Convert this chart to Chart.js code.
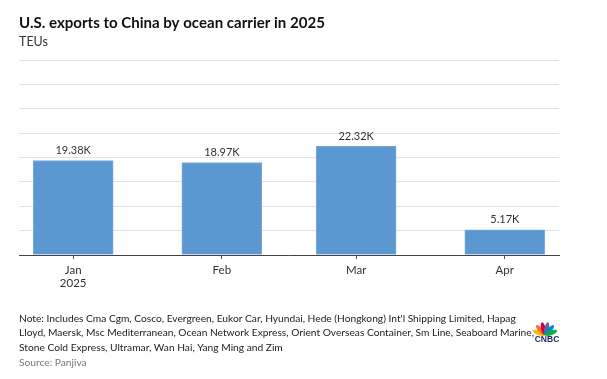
<!DOCTYPE html>
<html>
<head>
<meta charset="utf-8">
<script src="https://cdn.jsdelivr.net/npm/chart.js@4.4.1/dist/chart.umd.min.js"></script>
<style>
  html, body { margin: 0; padding: 0; background: #fff; }
  #wrap { width: 607px; height: 379px; position: relative; }
</style>
</head>
<body>
<div id="wrap"><canvas id="c" width="607" height="379"></canvas></div>
<script>
// ---- data ----
const categories = ['Jan', 'Feb', 'Mar', 'Apr'];
const yearLabel = '2025';
const monthDates = ['2025-01-01', '2025-02-01', '2025-03-01', '2025-04-01'];
const teus = [19380, 18970, 22320, 5170];
const yMax = 40000;
const yStep = 5000;

const titleText = 'U.S. exports to China by ocean carrier in 2025';
const subtitleText = 'TEUs';
const noteLines = [
  "Note: Includes Cma Cgm, Cosco, Evergreen, Eukor Car, Hyundai, Hede (Hongkong) Int'l Shipping Limited, Hapag",
  "Lloyd, Maersk, Msc Mediterranean, Ocean Network Express, Orient Overseas Container, Sm Line, Seaboard Marine,",
  "Stone Cold Express, Ultramar, Wan Hai, Yang Ming and Zim"
];
const sourceText = 'Source: Panjiva';

// days since first month (time-proportional positions)
const dayMs = 86400000;
const t0 = Date.parse(monthDates[0]);
const dayOffsets = monthDates.map(d => Math.round((Date.parse(d) - t0) / dayMs));

const FONT = 'Lato, "Open Sans", sans-serif';

function fitFont(ctx, text, weight, targetW) {
  ctx.font = weight + ' 20px ' + FONT;
  const w = ctx.measureText(text).width;
  return weight + ' ' + (20 * targetW / w).toFixed(2) + 'px ' + FONT;
}

const textPlugin = {
  id: 'texts',
  afterDatasetsDraw(chart) {
    const ctx = chart.ctx;
    const meta = chart.getDatasetMeta(0);
    ctx.save();
    ctx.font = '11px ' + FONT;
    ctx.fillStyle = '#333';
    ctx.textAlign = 'center';
    ctx.textBaseline = 'middle';
    meta.data.forEach((bar, i) => {
      ctx.fillText((teus[i] / 1000).toFixed(2) + 'K', bar.x, bar.y - 10);
    });
    ctx.restore();
  },
  afterDraw(chart) {
    const ctx = chart.ctx;
    ctx.save();
    ctx.textAlign = 'left';
    ctx.textBaseline = 'middle';
    ctx.fillStyle = '#111';
    ctx.font = fitFont(ctx, titleText, 'bold', 306);
    ctx.fillText(titleText, 19, 23);
    ctx.fillStyle = '#333';
    ctx.font = '12.5px ' + FONT;
    ctx.fillText(subtitleText, 19, 42);
    ctx.fillStyle = '#222';
    ctx.font = fitFont(ctx, noteLines[0], 'normal', 497);
    noteLines.forEach((l, i) => ctx.fillText(l, 19, 319 + i * 14.2));
    ctx.fillStyle = '#777';
    ctx.fillText(sourceText, 19, 363);

    // CNBC logo
    const bx = 545, by = 335;
    const cols = ['#fcb711', '#f37021', '#cc004c', '#6460aa', '#0089d0', '#0db14b'];
    const angs = [-70, -42, -14, 14, 42, 70];
    cols.forEach((c, i) => {
      ctx.save();
      ctx.translate(bx, by);
      ctx.rotate(angs[i] * Math.PI / 180);
      ctx.beginPath();
      ctx.ellipse(0, -6.5, 2.3, 6.5, 0, 0, Math.PI * 2);
      ctx.fillStyle = c;
      ctx.fill();
      ctx.restore();
    });
    ctx.fillStyle = '#1c2a5a';
    ctx.font = 'bold 8.5px "Liberation Sans", Arial, sans-serif';
    ctx.textAlign = 'center';
    ctx.fillText('CNBC', bx + 2, 340);
    ctx.restore();
  }
};

new Chart(document.getElementById('c'), {
  type: 'bar',
  data: {
    datasets: [{
      data: dayOffsets.map((x, i) => ({ x: x, y: teus[i] })),
      backgroundColor: '#5b97d0',
      borderColor: '#79acdf',
      borderWidth: 1,
      barThickness: 80
    }]
  },
  options: {
    responsive: false,
    animation: false,
    layout: { padding: { left: 19, right: 48, top: 60, bottom: 0 } },
    plugins: { legend: { display: false }, tooltip: { enabled: false } },
    scales: {
      x: {
        type: 'linear',
        offset: false,
        min: -11.3,
        max: 101.3,
        afterBuildTicks(scale) { scale.ticks = dayOffsets.map(v => ({ value: v })); },
        afterFit(scale) { scale.height = 124; },
        ticks: {
          autoSkip: false,
          maxRotation: 0,
          padding: 4,
          color: '#333',
          font: { family: FONT, size: 11.5 },
          callback: (v, i) => i === 0 ? [categories[0], yearLabel] : categories[i]
        },
        grid: { offset: false, drawOnChartArea: false, drawTicks: true, tickLength: 4, color: '#555' },
        border: { display: true, color: '#444', width: 1 }
      },
      y: {
        min: 0,
        max: yMax,
        ticks: { display: false, stepSize: yStep },
        afterFit(scale) { scale.width = 0; },
        grid: { color: '#e3e3e3', drawTicks: false, lineWidth: 1 },
        border: { display: false }
      }
    }
  },
  plugins: [textPlugin]
});
</script>
</body>
</html>
